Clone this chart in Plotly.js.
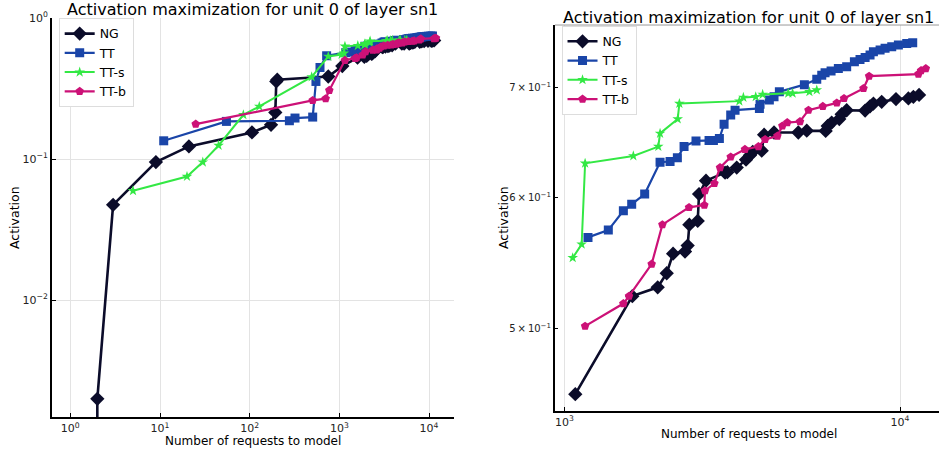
<!DOCTYPE html>
<html>
<head>
<meta charset="utf-8">
<script src="https://cdn.plot.ly/plotly-3.0.1.min.js"></script>
<style>html,body{margin:0;padding:0;background:#fff;}#chart{width:939px;height:450px;}</style>
</head>
<body>
<div id="chart"></div>
<script>
// ---- Data ----
const seriesNames = ["NG", "TT", "TT-s", "TT-b"];

const ngX = [2, 2, 3, 9, 21, 106, 173, 193, 198, 203, 752, 1078, 1594, 1897, 2018, 2108, 2288, 2330, 2357, 2496, 2519, 2642, 3011, 3059, 3262, 3476, 3573, 3640, 3872, 3935, 4213, 4977, 5273, 6003, 6088, 6255, 6592, 6700, 6934, 7870, 8140, 8330, 8816, 9725, 10588, 10957, 11393];
const ngY = [0.0001, 0.002, 0.0474, 0.0952, 0.123, 0.1545, 0.175, 0.214, 0.355, 0.365, 0.385, 0.456, 0.523, 0.5295, 0.540, 0.555, 0.5566, 0.5613, 0.578, 0.581, 0.6033, 0.6147, 0.6216, 0.622, 0.626, 0.633, 0.637, 0.640, 0.641, 0.6555, 0.6575, 0.6575, 0.6592, 0.659, 0.6636, 0.6667, 0.670, 0.6746, 0.6783, 0.678, 0.682, 0.6847, 0.6863, 0.689, 0.6896, 0.6912, 0.693];

const ttX = [11, 55, 277, 320, 504, 548, 608, 721, 1176, 1352, 1499, 1587, 1735, 1928, 2065, 2171, 2273, 2467, 2698, 2780, 2896, 2991, 3130, 3225, 3811, 3828, 4080, 4213, 4370, 5188, 5648, 5844, 5979, 6230, 6549, 6934, 7311, 7598, 7869, 8140, 8330, 8720, 9023, 9445, 9886, 10469, 10907];
const ttY = [0.1348, 0.185, 0.187, 0.1954, 0.1985, 0.355, 0.446, 0.54, 0.5678, 0.5736, 0.5893, 0.5948, 0.6033, 0.6307, 0.6314, 0.6346, 0.6447, 0.6498, 0.6503, 0.6503, 0.6521, 0.6652, 0.6737, 0.6784, 0.680, 0.684, 0.688, 0.6912, 0.6961, 0.703, 0.7084, 0.7124, 0.7148, 0.7167, 0.719, 0.7209, 0.726, 0.7283, 0.7303, 0.7327, 0.7362, 0.738, 0.7397, 0.7413, 0.743, 0.7448, 0.7455];

const ttsX = [5, 20, 30, 45, 85, 128, 491, 752, 1059, 1126, 1153, 1605, 1905, 1928, 2176, 2201, 3321, 3414, 3716, 3897, 4645, 4786, 5370, 5648];
const ttsY = [0.0596, 0.0753, 0.0952, 0.1249, 0.206, 0.236, 0.382, 0.534, 0.5518, 0.5623, 0.6298, 0.6363, 0.6447, 0.6567, 0.6700, 0.6847, 0.687, 0.6906, 0.6912, 0.6935, 0.6946, 0.6946, 0.6961, 0.6977];

const ttbX = [25, 504, 703, 772, 1153, 1499, 1558, 1820, 1959, 2352, 2612, 2624, 2799, 2909, 3130, 3451, 3785, 3963, 4311, 4460, 4613, 5034, 5336, 5888, 6480, 6809, 7780, 8087, 11340, 11550, 11930];
const ttbY = [0.177, 0.2604, 0.268, 0.307, 0.5015, 0.5176, 0.523, 0.547, 0.578, 0.5921, 0.594, 0.6061, 0.6123, 0.626, 0.6354, 0.6422, 0.6447, 0.6512, 0.6543, 0.6636, 0.6667, 0.6677, 0.6784, 0.682, 0.6853, 0.6896, 0.6993, 0.7114, 0.7135, 0.717, 0.719];

// the right-hand panel shows only requests from 1000 on
const zoomStart = 1000;

const leftXTickVals = [1, 10, 100, 1000, 10000];
const leftXTickText = ["10<sup>0</sup>", "10<sup>1</sup>", "10<sup>2</sup>", "10<sup>3</sup>", "10<sup>4</sup>"];
const leftYTickVals = [0.01, 0.1, 1];
const leftYTickText = ["10<sup>−2</sup>", "10<sup>−1</sup>", "10<sup>0</sup>"];
const rightXTickVals = [1000, 10000];
const rightXTickText = ["10<sup>3</sup>", "10<sup>4</sup>"];
const rightYTickVals = [0.5, 0.6, 0.7];
const rightYTickText = ["5\u2009×\u200910<sup>−1</sup>", "6\u2009×\u200910<sup>−1</sup>", "7\u2009×\u200910<sup>−1</sup>"];

const titleText = "Activation maximization for unit 0 of layer sn1";
const xTitle = "Number of requests to model";
const yTitle = "Activation";

// ---- Styles ----
const colors = ["#0b0c2a", "#1a45a8", "#33e844", "#cc1177"];
const symbols = ["diamond", "square", "star", "pentagon"];
const msizes = [11, 9, 8, 9];
const lwidths = [2.6, 2.2, 2, 2.2];
const xs = [ngX, ttX, ttsX, ttbX];
const ys = [ngY, ttY, ttsY, ttbY];

const traces = [];
[["x", "y", "legend"], ["x2", "y2", "legend2"]].forEach(([xa, ya, lg], k) => {
  for (let i = 0; i < 4; i++) {
    let X = xs[i], Y = ys[i];
    if (k === 1) {
      const idx = X.map((v, j) => j).filter(j => X[j] >= zoomStart);
      X = idx.map(j => xs[i][j]);
      Y = idx.map(j => ys[i][j]);
    }
    traces.push({
      x: X, y: Y, name: seriesNames[i], type: "scatter", mode: "lines+markers",
      xaxis: xa, yaxis: ya, legend: lg,
      line: {color: colors[i], width: lwidths[i]},
      marker: {color: colors[i], symbol: symbols[i], size: msizes[i], line: {width: 0}},
      cliponaxis: true
    });
  }
});

const font = "DejaVu Sans, sans-serif";
const tickFont = {family: font, size: 11, color: "#222"};
const axBase = {
  type: "log", showline: true, linecolor: "#000", linewidth: 2, ticks: "inside", ticklen: 4,
  tickcolor: "#000", tickfont: tickFont, showgrid: true, gridcolor: "#e3e3e3", gridwidth: 1,
  zeroline: false, tickmode: "array", mirror: false
};

const legendBase = {xanchor: "left", yanchor: "top", bgcolor: "#fff",
  bordercolor: "#dddddd", borderwidth: 1, font: {family: font, size: 12.5, color: "#000"},
  tracegroupgap: 0, itemwidth: 30};

const layout = {
  width: 939, height: 450, margin: {l: 0, r: 0, t: 0, b: 0},
  paper_bgcolor: "#fff", plot_bgcolor: "#fff", showlegend: true,
  xaxis: Object.assign({}, axBase, {domain: [0.0554, 0.4835], range: [-0.204, 4.278], anchor: "y",
    tickvals: leftXTickVals, ticktext: leftXTickText}),
  yaxis: Object.assign({}, axBase, {domain: [0.0733, 0.96], range: [-2.828, 0], anchor: "x",
    tickvals: leftYTickVals, ticktext: leftYTickText}),
  xaxis2: Object.assign({}, axBase, {domain: [0.591, 1.0], range: [2.972, 4.116], anchor: "y2",
    tickvals: rightXTickVals, ticktext: rightXTickText}),
  yaxis2: Object.assign({}, axBase, {domain: [0.0873, 0.9444], range: [-0.3511, -0.1168], anchor: "x2",
    tickvals: rightYTickVals, ticktext: rightYTickText, showgrid: false, ticklen: 3,
    tickfont: {family: font, size: 10, color: "#222"}}),
  legend: Object.assign({}, legendBase, {x: 0.0625, y: 0.9467 + 6/450}),
  legend2: Object.assign({}, legendBase, {x: 0.598, y: 0.9296 + 6/450}),
  shapes: [
    {type: "line", xref: "paper", yref: "paper", x0: 0.591, x1: 1.0, y0: 0.9444, y1: 0.9444,
      line: {color: "#999", width: 1}}
  ],
  annotations: [
    {text: titleText, xref: "paper", yref: "paper", x: 0.2686, y: 1 - 9/450, xanchor: "center", yanchor: "middle",
      showarrow: false, font: {family: font, size: 16, color: "#000"}},
    {text: titleText, xref: "paper", yref: "paper", x: 0.797, y: 1 - 17/450, xanchor: "center", yanchor: "middle",
      showarrow: false, font: {family: font, size: 16, color: "#000"}},
    {text: xTitle, xref: "paper", yref: "paper", x: 253/939, y: 1 - 441/450, xanchor: "center", yanchor: "middle",
      showarrow: false, font: {family: font, size: 12, color: "#000"}},
    {text: xTitle, xref: "paper", yref: "paper", x: 749/939, y: 1 - 434/450, xanchor: "center", yanchor: "middle",
      showarrow: false, font: {family: font, size: 12, color: "#000"}},
    {text: yTitle, xref: "paper", yref: "paper", x: 14/939, y: 1 - 218/450, xanchor: "center", yanchor: "middle",
      textangle: -90, showarrow: false, font: {family: font, size: 12.5, color: "#000"}},
    {text: yTitle, xref: "paper", yref: "paper", x: 503/939, y: 1 - 218/450, xanchor: "center", yanchor: "middle",
      textangle: -90, showarrow: false, font: {family: font, size: 12.5, color: "#000"}}
  ]
};

Plotly.newPlot("chart", traces, layout, {displayModeBar: false, staticPlot: true});
</script>
</body>
</html>
